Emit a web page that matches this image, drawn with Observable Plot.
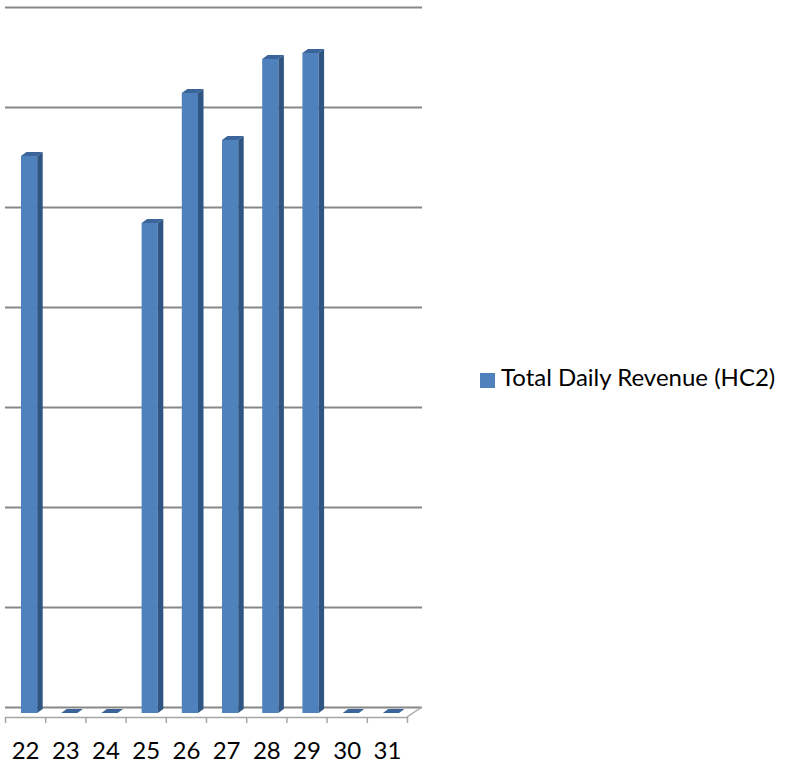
<!DOCTYPE html>
<html><head><meta charset="utf-8">
<script src="https://cdn.jsdelivr.net/npm/d3@7"></script>
<script src="https://cdn.jsdelivr.net/npm/@observablehq/plot@0.6"></script>
<style>
body{margin:0;background:#fff;font-family:Lato,sans-serif;}
#wrap{position:relative;width:787px;height:772px;}
#legend{position:absolute;left:480px;top:363px;display:flex;align-items:flex-start;font-family:Lato,sans-serif;font-size:24px;line-height:28.8px;color:#000;white-space:nowrap;}
#legend .sw{display:inline-block;width:15px;height:15px;background:#4f81bd;margin-right:6px;margin-top:9.5px;}
</style></head><body>
<div id="wrap"><div id="chart"></div><div id="legend"><span class="sw"></span><span id="legtext"></span></div></div>
<script>
const days = ["22","23","24","25","26","27","28","29","30","31"];
const revenue = [5.57, 0, 0, 4.90, 6.20, 5.73, 6.54, 6.60, 0, 0];
const gridValues = [0, 1, 2, 3, 4, 5, 6, 7];
const boundaries = [0,1,2,3,4,5,6,7,8,9,10];
const seriesName = "Total Daily Revenue (HC2)";

const rows = days.map((d, i) => ({day: d, index: i, value: revenue[i]}));
document.getElementById("legtext").textContent = seriesName;

const FRONT = "#4f81bd", SIDE = "#2f5583", TOP = "#3a649a";

function bar3d(index, scales, values) {
  const g = d3.create("svg:g");
  for (const i of index) {
    const xl = values.x1[i] + 16, xr = values.x2[i] - 8;
    const yb = values.y1[i] + 6, yt = values.y2[i] + 6;
    const ddx = 5.5, ddy = -4;
    g.append("rect").attr("x", xl).attr("y", yt).attr("width", xr - xl).attr("height", Math.max(0, yb - yt)).attr("fill", FRONT);
    g.append("path").attr("d", `M${xr},${yb}L${xr},${yt}L${xr+ddx},${yt+ddy}L${xr+ddx},${yb+ddy}Z`).attr("fill", SIDE);
    g.append("path").attr("d", `M${xl},${yt}L${xl+ddx},${yt+ddy}L${xr+ddx},${yt+ddy}L${xr},${yt}Z`).attr("fill", TOP);
  }
  return g.node();
}

function floorSide(index, scales) {
  const x = scales.x(10), y = scales.y(0);
  return d3.create("svg:path")
    .attr("d", `M${x},${y + 10}L${x + 15},${y}`)
    .attr("stroke", "#a6a6a6").attr("stroke-width", 1.5).attr("fill", "none").node();
}

const chart = Plot.plot({
  width: 430,
  height: 772,
  marginLeft: 5,
  marginRight: 23,
  marginTop: 7,
  marginBottom: 55,
  style: {fontFamily: "Lato, sans-serif", background: "#fff", color: "#000"},
  x: {type: "linear", domain: [0, 10]},
  y: {domain: [0, 7], range: [707, 7], axis: null},
  marks: [
    Plot.ruleY(gridValues, {stroke: "#878787", strokeWidth: 2.2, insetRight: -15}),
    Plot.ruleY([0], {dy: 10, stroke: "#a6a6a6", strokeWidth: 1.5}),
    floorSide,
    Plot.axisX({ticks: boundaries, tickSize: 6, tickFormat: () => "", stroke: "#a6a6a6", strokeWidth: 1.5, label: null}),
    Plot.axisX({ticks: boundaries.slice(0, 10).map(i => i + 0.5), tickSize: 0, tickPadding: 24, tickFormat: v => days[Math.floor(v)], fontSize: 24, label: null}),
    Plot.rectY(rows, {x1: "index", x2: d => d.index + 1, y1: 0, y2: "value", render: bar3d})
  ]
});
document.getElementById("chart").appendChild(chart);
</script>
</body></html>
